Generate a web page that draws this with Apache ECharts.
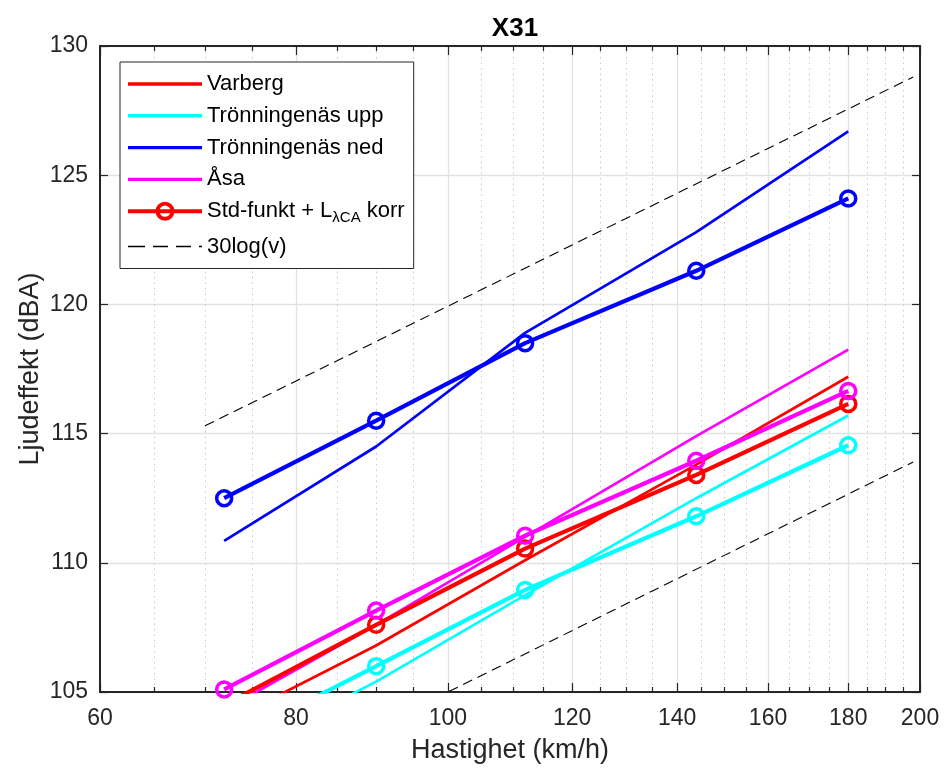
<!DOCTYPE html>
<html>
<head>
<meta charset="utf-8">
<title>X31</title>
<script src="https://cdn.jsdelivr.net/npm/echarts@6/dist/echarts.min.js"></script>
<style>
  html, body { margin: 0; padding: 0; background: #fff; }
  #main { width: 944px; height: 771px; }
</style>
</head>
<body>
<div id="main"></div>
<script>
// hastighet (km/h) for alla mätpunkter
var speeds = [72, 90, 112, 144, 180]
// uppmätta (tunna linjer)
var varberg = [103.8, 106.8, 110.1, 113.8, 117.2]
var tronUpp = [102.4, 105.4, 108.75, 112.5, 115.7]
var tronNed = [110.85, 114.5, 118.9, 122.8, 126.7]
var asa = [104.3, 107.6, 111.0, 114.9, 118.25]
// Std-funkt + L korr (tjocka linjer med ringar)
var stdVarberg = [104.5, 107.6, 110.55, 113.4, 116.15]
var stdTronUpp = [103.0, 106.0, 108.95, 111.8, 114.55]
var stdTronNed = [112.5, 115.5, 118.5, 121.3, 124.1]
var stdAsa = [105.1, 108.15, 111.05, 113.95, 116.65]
// 30log(v) hjälplinjer
var refSpeeds = [70, 198]
var refHigh = [115.3, 128.8]
var refLow = [100.35, 113.9]
// axlar
var xMajor = [60, 80, 100, 120, 140, 160, 180, 200]
var xMinor = [65, 70, 75, 85, 90, 95, 105, 110, 115, 125, 130, 135, 145, 150, 155, 165, 170, 175, 185, 190, 195]
var yMin = 105, yMax = 130, yStep = 5

var FONT = "'Liberation Sans', Arial, Helvetica, sans-serif"
var AX = '#262626'
var STD_NAME = 'Std-funkt + LλCA korr'

// legendikoner (linje, streckad, linje med ring)
var ICON_LINE = 'path://M0,0H74V3.4H0Z'
var ICON_DASH = 'path://M0,0H17V1.5H0Z M25,0H40V1.5H25Z M48,0H63V1.5H48Z M71,0H74V1.5H71Z'
var ICON_STD = 'path://M0,8H74V12H0Z M27.5,10A9.5,9.5,0,1,1,46.5,10A9.5,9.5,0,1,1,27.5,10Z M31.4,10A5.6,5.6,0,1,0,42.6,10A5.6,5.6,0,1,0,31.4,10Z'

function pairs(xs, ys) {
    return xs.map(function (x, i) { return [x, ys[i]] })
}
function thin(name, color, ys) {
    return {
        name: name, type: 'line', data: pairs(speeds, ys),
        symbol: 'none', lineStyle: { color: color, width: 2.7 },
        itemStyle: { color: color }, z: 3
    }
}
function thick(name, color, ys) {
    return {
        name: name, type: 'line', data: pairs(speeds, ys),
        symbol: 'circle', symbolSize: 15,
        lineStyle: { color: color, width: 4.2 },
        itemStyle: { color: 'rgba(0,0,0,0)', borderColor: color, borderWidth: 3.5 }, z: 4
    }
}
function dashed(ys) {
    return {
        name: '30log(v)', type: 'line', data: pairs(refSpeeds, ys),
        symbol: 'none', lineStyle: { color: '#000', width: 1.1, type: [10, 6] },
        itemStyle: { color: '#000' }, z: 2
    }
}
function lg(v) { return Math.log10(v) }

// dekorativa x-axlar (i log10-rum) som ger MATLAB-rutnät
function decoAxis(pos, values, len, opts) {
    var a = {
        type: 'value', position: pos, min: lg(60), max: lg(200), offset: 0,
        axisLine: { show: false },
        axisTick: { show: true, inside: true, length: len, customValues: values.map(lg), lineStyle: { color: AX, width: 1.2 } },
        axisLabel: { show: false },
        splitLine: { show: false }
    }
    return Object.assign(a, opts || {})
}

var chart = echarts.init(document.getElementById('main'), null, { renderer: 'canvas' })

var option = {
    animation: false,
    backgroundColor: '#fff',
    textStyle: { fontFamily: FONT },
    title: {
        text: 'X31', left: 510, top: 11, textAlign: 'center',
        textStyle: { fontFamily: FONT, fontSize: 26, fontWeight: 'bold', color: '#000' }
    },
    grid: { left: 100, right: 24, top: 46, bottom: 79, outerBoundsMode: 'none', containLabel: false },
    legend: {
        orient: 'vertical', left: 120, top: 62,
        data: [
            { name: 'Varberg', icon: ICON_LINE },
            { name: 'Trönningenäs upp', icon: ICON_LINE },
            { name: 'Trönningenäs ned', icon: ICON_LINE },
            { name: 'Åsa', icon: ICON_LINE },
            { name: STD_NAME, icon: ICON_STD, itemStyle: { color: '#ff0000', borderWidth: 0 } },
            { name: '30log(v)', icon: ICON_DASH }
        ],
        itemWidth: 74, itemHeight: 20, itemGap: 9.8,
        padding: [11, 9, 11, 8],
        itemStyle: { borderWidth: 0 },
        backgroundColor: '#fff', borderColor: AX, borderWidth: 1,
        formatter: function (name) {
            return name === STD_NAME ? 'Std-funkt + L{sub|λCA} korr' : name
        },
        textStyle: {
            fontFamily: FONT, fontSize: 22, color: '#000',
            rich: { sub: { fontFamily: FONT, fontSize: 15, color: '#000', padding: [14, 0, 0, 0] } }
        }
    },
    xAxis: [
        // dataaxel (log)
        { type: 'log', logBase: 10, min: 60, max: 200, position: 'bottom', show: false },
        decoAxis('bottom', xMajor, 9, {
            axisLine: { show: true, lineStyle: { color: AX, width: 2 } },
            axisLabel: {
                show: true, customValues: xMajor.map(lg), fontSize: 23, margin: 15, color: AX, fontFamily: FONT,
                formatter: function (v) { return String(Math.round(Math.pow(10, v))) }
            },
            splitLine: { show: true, lineStyle: { color: '#e2e2e2', width: 1.3 } },
            name: 'Hastighet (km/h)', nameLocation: 'middle', nameGap: 45, nameMoveOverlap: false,
            nameTextStyle: { fontSize: 27, color: AX, fontFamily: FONT }
        }),
        decoAxis('bottom', xMinor, 5, {
            splitLine: { show: true, lineStyle: { color: '#c8c8c8', width: 1, type: [1.5, 4] } }
        }),
        decoAxis('top', xMajor, 9, { axisLine: { show: true, lineStyle: { color: AX, width: 2 } } }),
        decoAxis('top', xMinor, 5)
    ],
    yAxis: [
        {
            type: 'value', min: yMin, max: yMax, interval: yStep, position: 'left',
            axisLine: { show: true, lineStyle: { color: AX, width: 2 } },
            axisTick: { show: true, inside: true, length: 8, lineStyle: { color: AX, width: 1.2 } },
            axisLabel: { fontSize: 23, margin: 12, color: AX, fontFamily: FONT },
            splitLine: { show: true, lineStyle: { color: '#e2e2e2', width: 1.3 } },
            name: 'Ljudeffekt (dBA)', nameLocation: 'middle', nameGap: 56, nameMoveOverlap: false,
            nameTextStyle: { fontSize: 27, color: AX, fontFamily: FONT }
        },
        {
            type: 'value', min: yMin, max: yMax, interval: yStep, position: 'right',
            axisLine: { show: true, lineStyle: { color: AX, width: 2 } },
            axisTick: { show: true, inside: true, length: 8, lineStyle: { color: AX, width: 1.2 } },
            axisLabel: { show: false },
            splitLine: { show: false }
        }
    ],
    series: [
        thin('Varberg', '#ff0000', varberg),
        thin('Trönningenäs upp', '#00ffff', tronUpp),
        thin('Trönningenäs ned', '#0000ff', tronNed),
        thin('Åsa', '#ff00ff', asa),
        thick(STD_NAME, '#ff0000', stdVarberg),
        thick('std upp', '#00ffff', stdTronUpp),
        thick('std ned', '#0000ff', stdTronNed),
        thick('std åsa', '#ff00ff', stdAsa),
        dashed(refHigh),
        dashed(refLow)
    ]
}
chart.setOption(option)
</script>
</body>
</html>
